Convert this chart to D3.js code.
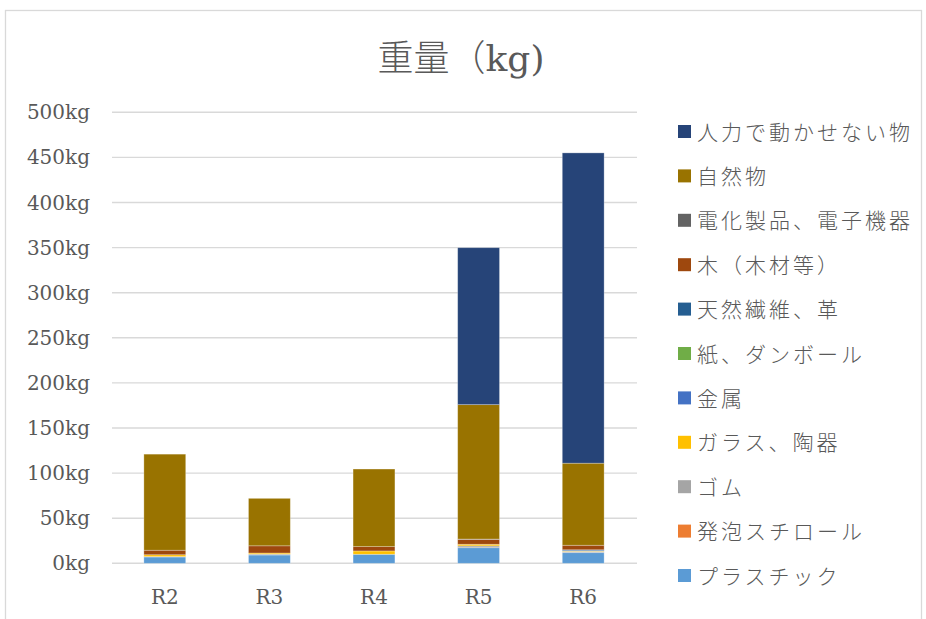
<!DOCTYPE html>
<html>
<head>
<meta charset="utf-8">
<script src="https://cdn.jsdelivr.net/npm/d3@7"></script>
<style>
  body { margin: 0; background: #fff; }
  text { fill: #595959; }
</style>
</head>
<body>
<div id="chart"></div>
<script>
// categories (years)
var categories = ["R2", "R3", "R4", "R5", "R6"];

// series, bottom of the stack first
var seriesNames = ["プラスチック", "発泡スチロール", "ゴム", "ガラス、陶器", "金属",
  "紙、ダンボール", "天然繊維、革", "木（木材等）", "電化製品、電子機器", "自然物", "人力で動かせない物"];
var plastic     = [7, 9.2, 10, 17.3, 11.8];
var foam        = [0.5, 0, 0, 0, 0];
var rubber      = [0, 1, 0, 2, 1];
var glass       = [2, 1.2, 3.7, 1.8, 0.7];
var metal       = [0, 0, 0, 0, 0.5];
var paper       = [0, 0, 0, 0, 0];
var fiber       = [0, 0, 0, 0, 1];
var wood        = [5, 8, 4.8, 5.5, 5];
var electronics = [0, 0, 0, 0.3, 0];
var natural     = [106.5, 52.6, 86, 149, 91];
var immovable   = [0, 0, 0, 174, 344];

var yTicks = [0, 50, 100, 150, 200, 250, 300, 350, 400, 450, 500];

var seriesValues = [plastic, foam, rubber, glass, metal, paper, fiber, wood, electronics, natural, immovable];
var colors = ["#5B9BD5", "#ED7D31", "#A5A5A5", "#FFC000", "#4472C4",
  "#70AD47", "#255E91", "#9E480E", "#636363", "#997300", "#264478"];

var W = 926, H = 619;
var serif = "'DejaVu Serif', 'Noto Sans CJK JP', serif";
var jp = "'Noto Sans CJK JP', sans-serif";

var svg = d3.select('#chart').append('svg')
  .attr('width', W).attr('height', H);

svg.append('rect').attr('width', W).attr('height', H).attr('fill', '#fff');

// chart outer border
svg.append('rect')
  .attr('x', 5.5).attr('y', 10.5)
  .attr('width', 916).attr('height', 640)
  .attr('fill', 'none').attr('stroke', '#d9d9d9').attr('stroke-width', 1.3);

// title
svg.append('text')
  .attr('x', 461).attr('y', 71)
  .attr('text-anchor', 'middle')
  .style('font-family', serif)
  .style('font-size', '36px')
  .style('font-weight', 300)
  .text('重量（kg)');

// build rows for d3.stack
var rows = categories.map(function (c, i) {
  var r = { cat: c };
  seriesNames.forEach(function (s, j) { r[s] = seriesValues[j][i]; });
  return r;
});
var stacked = d3.stack().keys(seriesNames)(rows);

var x = d3.scaleBand()
  .domain(categories)
  .range([112.5, 635.5])
  .paddingInner(0.6)
  .paddingOuter(0.3);

var y = d3.scaleLinear()
  .domain([0, 500])
  .range([563.3, 112.3]);

// gridlines
svg.append('g').selectAll('line')
  .data(yTicks)
  .enter().append('line')
  .attr('x1', 112).attr('x2', 637)
  .attr('y1', function (d) { return y(d); })
  .attr('y2', function (d) { return y(d); })
  .attr('stroke', '#d9d9d9')
  .attr('stroke-width', 1.4);

// y labels
svg.append('g').selectAll('text')
  .data(yTicks)
  .enter().append('text')
  .attr('x', 90)
  .attr('y', function (d) { return y(d) + 7; })
  .attr('text-anchor', 'end')
  .style('font-family', serif)
  .style('font-size', '20px')
  .text(function (d) { return d + 'kg'; });

// bars
svg.append('g').selectAll('g')
  .data(stacked)
  .enter().append('g')
  .attr('fill', function (d, i) { return colors[i]; })
  .selectAll('rect')
  .data(function (d) { return d; })
  .enter().append('rect')
  .attr('x', function (d) { return x(d.data.cat); })
  .attr('width', x.bandwidth())
  .attr('y', function (d) { return y(d[1]); })
  .attr('height', function (d) { return Math.max(0, y(d[0]) - y(d[1])); })
  .attr('stroke', 'rgba(255,255,255,0.35)')
  .attr('stroke-width', function (d) { return (d[1] - d[0]) > 0 ? 0.8 : 0; });

// x labels
svg.append('g').selectAll('text')
  .data(categories)
  .enter().append('text')
  .attr('x', function (d) { return x(d) + x.bandwidth() / 2; })
  .attr('y', 604)
  .attr('text-anchor', 'middle')
  .style('font-family', serif)
  .style('font-size', '20px')
  .text(function (d) { return d; });

// legend (top of stack first)
var legendItems = seriesNames.map(function (s, i) { return { name: s, color: colors[i] }; }).reverse();
var lg = svg.append('g').selectAll('g')
  .data(legendItems)
  .enter().append('g')
  .attr('transform', function (d, i) { return 'translate(678,' + (131.5 + i * 44.4) + ')'; });

lg.append('rect')
  .attr('x', 0).attr('y', -6.5)
  .attr('width', 13).attr('height', 13)
  .attr('fill', function (d) { return d.color; });

lg.append('text')
  .attr('x', 19).attr('y', 8)
  .style('font-family', jp)
  .style('font-size', '21px')
  .style('font-weight', 300)
  .style('letter-spacing', '3px')
  .text(function (d) { return d.name; });
</script>
</body>
</html>
